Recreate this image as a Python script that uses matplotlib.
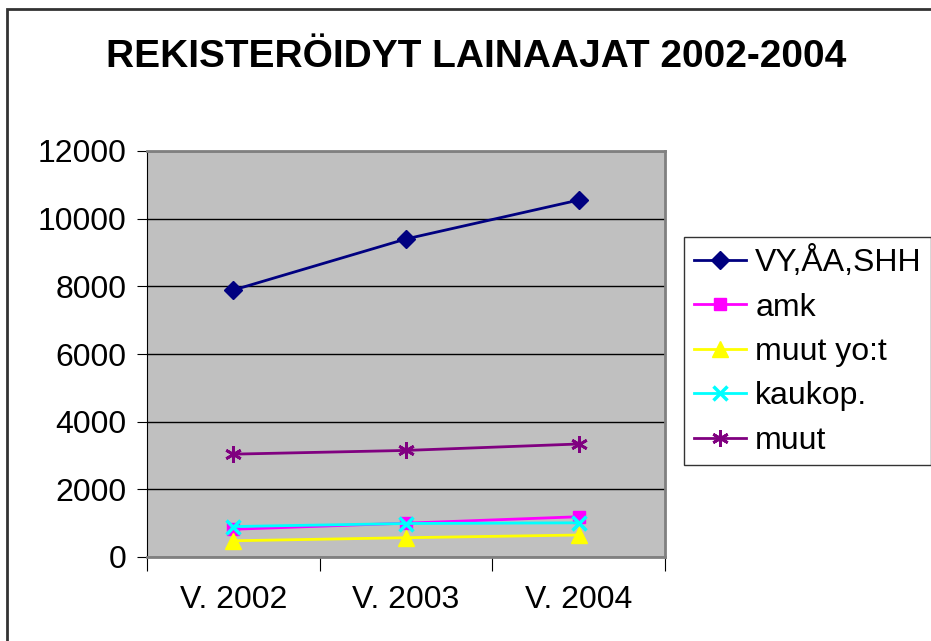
import matplotlib.pyplot as plt
from matplotlib.patches import Rectangle

plt.rcParams['font.family'] = ['Liberation Sans', 'DejaVu Sans']

years = ['V. 2002', 'V. 2003', 'V. 2004']
vy_aa_shh = [7890, 9400, 10550]
amk = [820, 1000, 1190]
muut_yot = [480, 570, 650]
kaukop = [900, 990, 1010]
muut = [3040, 3150, 3340]

fig = plt.figure(figsize=(9.31, 6.41), dpi=100)
fig.patches.append(Rectangle((6.5 / 931, -0.1), 1.2, 1.1 - 9.5 / 641,
                             transform=fig.transFigure, fill=False,
                             edgecolor='#333333', linewidth=2))

ax = fig.add_axes([147 / 931, 84 / 641, 518 / 931, 406 / 641])
ax.set_facecolor('#C0C0C0')

x = [0.5, 1.5, 2.5]
ax.plot(x, vy_aa_shh, color='#000080', marker='D', markersize=9, lw=2, label='VY,ÅA,SHH')
ax.plot(x, amk, color='#FF00FF', marker='s', markersize=9, lw=2, label='amk')
ax.plot(x, muut_yot, color='#FFFF00', marker='^', markersize=11, lw=2, label='muut yo:t')
ax.plot(x, kaukop, color='#00FFFF', marker='x', markersize=10, mew=2.5, lw=2, label='kaukop.')
ax.plot(x, muut, color='#800080', marker=(6, 2, 0), markersize=12, mew=2, lw=2, label='muut')

ax.set_xlim(0, 3)
ax.set_ylim(0, 12000)
ax.set_yticks(range(0, 12001, 2000))
ax.yaxis.grid(True, color='black', lw=1)
ax.set_axisbelow(True)

ax.set_xticks([0, 1, 2, 3])
ax.set_xticklabels([])
ax.set_xticks(x, minor=True)
ax.set_xticklabels(years, minor=True)
ax.tick_params(axis='x', which='minor', length=0, pad=20, labelsize=23)
ax.tick_params(axis='x', which='major', length=10, direction='out')
ax.tick_params(axis='y', length=7, direction='out', labelsize=23, pad=8)

for s in ['top', 'right', 'bottom']:
    ax.spines[s].set_color('#808080')
    ax.spines[s].set_linewidth(2)
ax.spines['left'].set_color('black')

fig.text(476 / 931, 1 - 57 / 641, 'REKISTERÖIDYT LAINAAJAT 2002-2004',
         ha='center', va='center', fontsize=28, fontweight='bold')

leg = ax.legend(loc='center left', bbox_to_anchor=(684 / 931, 1 - 351 / 641),
                bbox_transform=fig.transFigure, fontsize=23, frameon=True,
                fancybox=False, edgecolor='black', borderpad=0.3,
                handlelength=1.65, handletextpad=0.28, labelspacing=0.45,
                borderaxespad=0)
leg.get_frame().set_linewidth(1)

fig.savefig('out.png', dpi=100)
